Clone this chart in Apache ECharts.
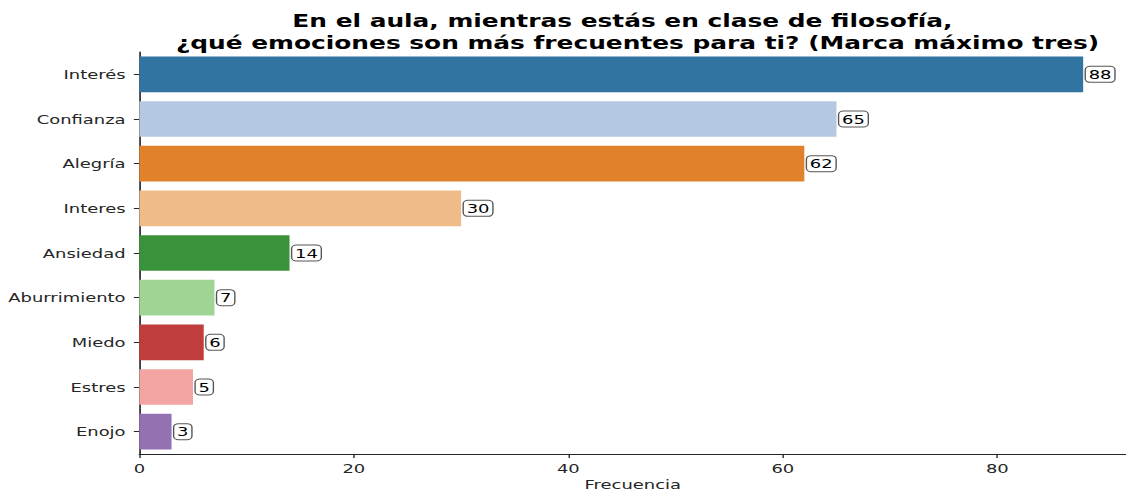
<!DOCTYPE html>
<html>
<head>
<meta charset="utf-8">
<script src="https://cdn.jsdelivr.net/npm/echarts@6/dist/echarts.min.js"></script>
<style>
  html, body { margin: 0; padding: 0; background: #ffffff; overflow: hidden; }
  /* The figure is laid out on a narrower canvas and widened horizontally,
     giving the wide, stretched look of the published figure. */
  #chart {
    width: 816px;
    height: 492px;
    transform: scaleX(1.38);
    transform-origin: 0 0;
  }
</style>
</head>
<body>
<div id="chart"></div>
<script>
// Emotions reported during philosophy class
const categories = ['Interés', 'Confianza', 'Alegría', 'Interes', 'Ansiedad', 'Aburrimiento', 'Miedo', 'Estres', 'Enojo'];
const counts = [88, 65, 62, 30, 14, 7, 6, 5, 3];
const barColors = ['#3274a1', '#b5c8e1', '#e1812c', '#eebb89', '#3a923a', '#9fd494', '#c03d3e', '#f2a5a3', '#9472b2'];
const xTicks = [0, 20, 40, 60, 80];

const titleLine1 = 'En el aula, mientras estás en clase de filosofía,';
const titleLine2 = '¿qué emociones son más frecuentes para ti? (Marca máximo tres)';
const font = 'DejaVu Sans';
const ink = '#262626';

const chart = echarts.init(document.getElementById('chart'), null, { renderer: 'svg' });

const titleStyle = {
  fontFamily: font,
  fontWeight: 'bold',
  fontSize: 18,
  lineHeight: 22,
  color: '#000000'
};

chart.setOption({
  backgroundColor: '#ffffff',
  animation: false,
  title: [
    { text: titleLine1, left: 446, top: 5, textAlign: 'center', textStyle: titleStyle },
    { text: titleLine2, left: 457, top: 27, textAlign: 'center', textStyle: titleStyle }
  ],
  grid: { left: 101, right: 0, top: 52, bottom: 38, containLabel: false, outerBoundsMode: 'none' },
  xAxis: {
    type: 'value',
    min: 0,
    max: 92,
    interval: 20,
    name: 'Frecuencia',
    nameLocation: 'middle',
    nameMoveOverlap: false,
    nameGap: 23,
    nameTextStyle: { fontFamily: font, fontSize: 13, lineHeight: 14, color: ink },
    axisLine: { show: true, lineStyle: { color: ink, width: 1.2 } },
    axisTick: { show: true, length: 4, lineStyle: { color: ink, width: 1 }, customValues: xTicks },
    axisLabel: {
      fontFamily: font, fontSize: 13, color: ink, margin: 8,
      customValues: xTicks
    },
    splitLine: { show: false }
  },
  yAxis: {
    type: 'category',
    data: categories,
    inverse: true,
    axisLine: { show: true, lineStyle: { color: ink, width: 1.2 } },
    axisTick: { show: true, alignWithLabel: true, length: 4, lineStyle: { color: ink, width: 1 } },
    axisLabel: { fontFamily: font, fontSize: 13, color: ink, margin: 10 },
    splitLine: { show: false }
  },
  series: [{
    type: 'bar',
    barWidth: '80%',
    data: counts.map((v, i) => ({ value: v, itemStyle: { color: barColors[i] } })),
    label: {
      show: true,
      position: 'right',
      distance: 2,
      fontFamily: font,
      fontSize: 13,
      color: '#000000',
      backgroundColor: '#ffffff',
      borderColor: '#555555',
      borderWidth: 1,
      borderRadius: 3,
      padding: [1, 2, 1, 2]
    }
  }]
});
</script>
</body>
</html>
